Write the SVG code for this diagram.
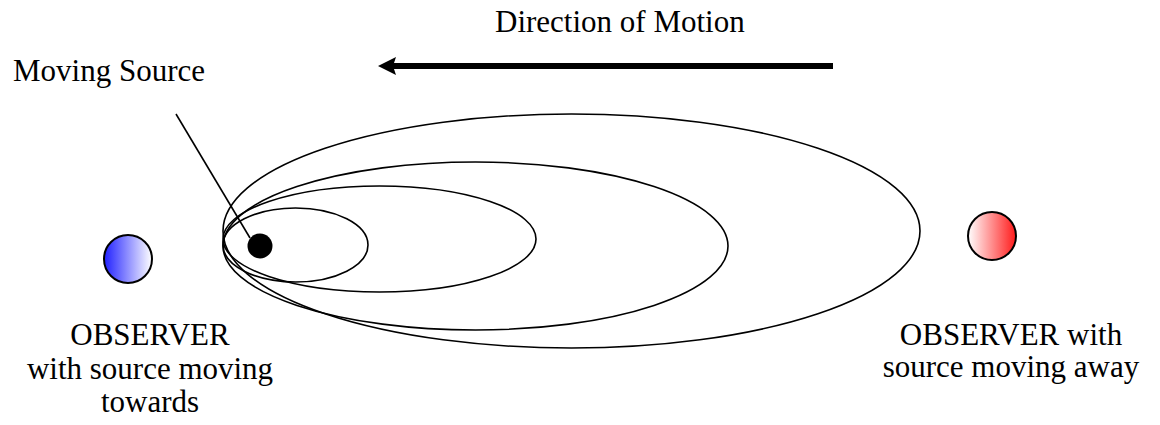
<svg xmlns="http://www.w3.org/2000/svg" width="1160" height="425" viewBox="0 0 1160 425">
  <style>
    .lbl { font-family: 'Liberation Serif', 'DejaVu Serif', 'Times New Roman', serif; font-size: 31px; fill: #000; }
    .wave { fill: none; stroke: #000; stroke-width: 1.6; }
    .obs { stroke: #000; stroke-width: 2; }
  </style>
  <defs>
    <linearGradient id="gBlue" x1="0" y1="0" x2="1" y2="0">
      <stop offset="0" stop-color="#2020ff"/>
      <stop offset="1" stop-color="#ffffff"/>
    </linearGradient>
    <linearGradient id="gRed" x1="0" y1="0" x2="1" y2="0">
      <stop offset="0" stop-color="#ffffff"/>
      <stop offset="1" stop-color="#ff1a1a"/>
    </linearGradient>
  </defs>
  <rect width="1160" height="425" fill="#fff"/>

  <g id="waves">
    <ellipse class="wave" cx="571.5" cy="231" rx="348.5" ry="117"/>
    <ellipse class="wave" cx="475.5" cy="246" rx="252.5" ry="84"/>
    <ellipse class="wave" cx="379.5" cy="239" rx="156.5" ry="53"/>
    <ellipse class="wave" cx="295.5" cy="245" rx="72.5" ry="37"/>
  </g>

  <g id="source">
    <circle cx="260" cy="246" r="12.5" fill="#000"/>
    <text class="lbl" font-family="Liberation Serif, serif" x="13" y="81">Moving Source</text>
  </g>

  <g id="observer-towards">
    <circle class="obs" cx="128" cy="259" r="24" fill="url(#gBlue)"/>
    <text class="lbl" font-family="Liberation Serif, serif" text-anchor="middle" x="150" y="345">OBSERVER</text>
    <text class="lbl" font-family="Liberation Serif, serif" text-anchor="middle" x="150" y="379">with source moving</text>
    <text class="lbl" font-family="Liberation Serif, serif" text-anchor="middle" x="150" y="412">towards</text>
  </g>

  <g id="observer-away">
    <circle class="obs" cx="992" cy="236" r="24" fill="url(#gRed)"/>
    <text class="lbl" font-family="Liberation Serif, serif" text-anchor="middle" x="1011" y="345">OBSERVER with</text>
    <text class="lbl" font-family="Liberation Serif, serif" text-anchor="middle" x="1011" y="377">source moving away</text>
  </g>

  <g id="motion">
    <text class="lbl" font-family="Liberation Serif, serif" x="495" y="32">Direction of Motion</text>
  </g>

  <g id="connectors">
    <line x1="176" y1="114" x2="250" y2="238" stroke="#000" stroke-width="1.6"/>
    <line x1="833" y1="66" x2="392" y2="66" stroke="#000" stroke-width="6"/>
    <path d="M378,66 L396,57 L393,66 L396,75 Z" fill="#000"/>
  </g>
</svg>
